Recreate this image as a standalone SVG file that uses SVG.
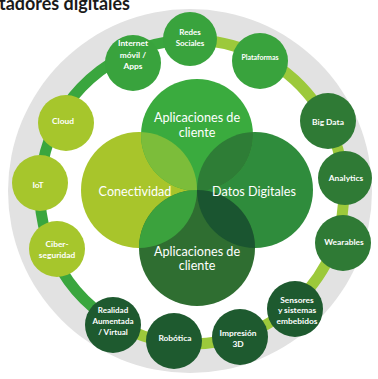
<svg xmlns="http://www.w3.org/2000/svg" width="378" height="379" viewBox="0 0 378 379">
<defs>
<style>
.node text{font-family:Lato,"Liberation Sans",sans-serif;font-weight:bold;fill:#fff;text-anchor:middle;font-size:8.4px}
.big{font-family:Lato,"Liberation Sans",sans-serif;fill:#fff;text-anchor:middle;font-size:12.6px}
.yg{fill:#a6c62c}
.g1{fill:#39a33d}
.g2{fill:#2f7a35}
.g3{fill:#1e5a2f}
</style>
<clipPath id="cT"><circle cx="197" cy="135" r="56"/></clipPath>
<clipPath id="cB"><circle cx="197" cy="248" r="58"/></clipPath>
</defs>
<rect width="378" height="379" fill="#fff"/>
<circle cx="190" cy="191" r="182" fill="#e2e2e2"/>
<circle cx="192" cy="192" r="152" fill="#fff"/>
<text x="-1" y="10" font-family="Lato,'Liberation Sans',sans-serif" font-weight="bold" font-size="19" textLength="131" lengthAdjust="spacingAndGlyphs" fill="#1a1a1a">tadores digitales</text>
<g id="connectors">
<path d="M192 40 A152 152 0 0 0 113.7 322.3" fill="none" stroke="#3aa63e" stroke-width="11"/>
<path d="M192 40 A152 152 0 1 1 113.7 322.3" fill="none" stroke="#9cc93b" stroke-width="11"/>
</g>
<g id="venn">
<circle cx="139" cy="190" r="58" fill="#a8c52b"/>
<circle cx="255" cy="190" r="58" fill="#2f8c3c"/>
<circle cx="197" cy="135" r="56" fill="#3aab3e"/>
<circle cx="197" cy="248" r="58" fill="#2f6e31"/>
<circle cx="139" cy="190" r="58" fill="#7cbd3a" clip-path="url(#cT)"/>
<circle cx="255" cy="190" r="58" fill="#2e7d36" clip-path="url(#cT)"/>
<circle cx="139" cy="190" r="58" fill="#3ba23d" clip-path="url(#cB)"/>
<circle cx="255" cy="190" r="58" fill="#1a5530" clip-path="url(#cB)"/>
<text class="big" x="197" y="122">Aplicaciones de</text>
<text class="big" x="197" y="137">cliente</text>
<text class="big" x="135" y="196">Conectividad</text>
<text class="big" x="254" y="196">Datos Digitales</text>
<text class="big" x="197" y="256">Aplicaciones de</text>
<text class="big" x="197" y="270">cliente</text>
</g>
<g id="n-redes" class="node"><circle class="g1" cx="190" cy="39" r="27"/><text x="190" y="34.5" style="font-size:8px">Redes</text><text x="190" y="45.5" style="font-size:8px">Sociales</text></g>
<g id="n-internet" class="node"><circle class="g1" cx="133" cy="63" r="28"/><text x="133" y="46">Internet</text><text x="133" y="57.5">móvil /</text><text x="133" y="69">Apps</text></g>
<g id="n-plataformas" class="node"><circle class="g1" cx="260" cy="61" r="28"/><text x="260" y="60" style="font-size:7px">Plataformas</text></g>
<g id="n-bigdata" class="node"><circle class="g2" cx="328" cy="121" r="28"/><text x="328" y="124.5">Big Data</text></g>
<g id="n-analytics" class="node"><circle class="g2" cx="345" cy="178" r="27"/><text x="346" y="181">Analytics</text></g>
<g id="n-wearables" class="node"><circle class="g2" cx="343" cy="243" r="28"/><text x="344" y="245">Wearables</text></g>
<g id="n-sensores" class="node"><circle class="g3" cx="295" cy="309" r="28"/><text x="297" y="302.5">Sensores</text><text x="297" y="313">y sistemas</text><text x="297" y="323.5">embebidos</text></g>
<g id="n-impresion" class="node"><circle class="g3" cx="240" cy="337" r="28"/><text x="238" y="335.5">Impresión</text><text x="238" y="346.5">3D</text></g>
<g id="n-robotica" class="node"><circle class="g3" cx="174" cy="341" r="28"/><text x="175" y="341">Robótica</text></g>
<g id="n-realidad" class="node"><circle class="g3" cx="113" cy="325" r="28"/><text x="113" y="313" style="font-size:8px">Realidad</text><text x="113" y="324" style="font-size:8px">Aumentada</text><text x="113" y="335" style="font-size:8px">/ Virtual</text></g>
<g id="n-ciber" class="node"><circle class="yg" cx="57" cy="249" r="28"/><text x="57" y="246.5">Ciber-</text><text x="57" y="257.5">seguridad</text></g>
<g id="n-iot" class="node"><circle class="yg" cx="40" cy="183" r="28"/><text x="38" y="188">IoT</text></g>
<g id="n-cloud" class="node"><circle class="yg" cx="66" cy="123" r="28"/><text x="63" y="124">Cloud</text></g>
</svg>
